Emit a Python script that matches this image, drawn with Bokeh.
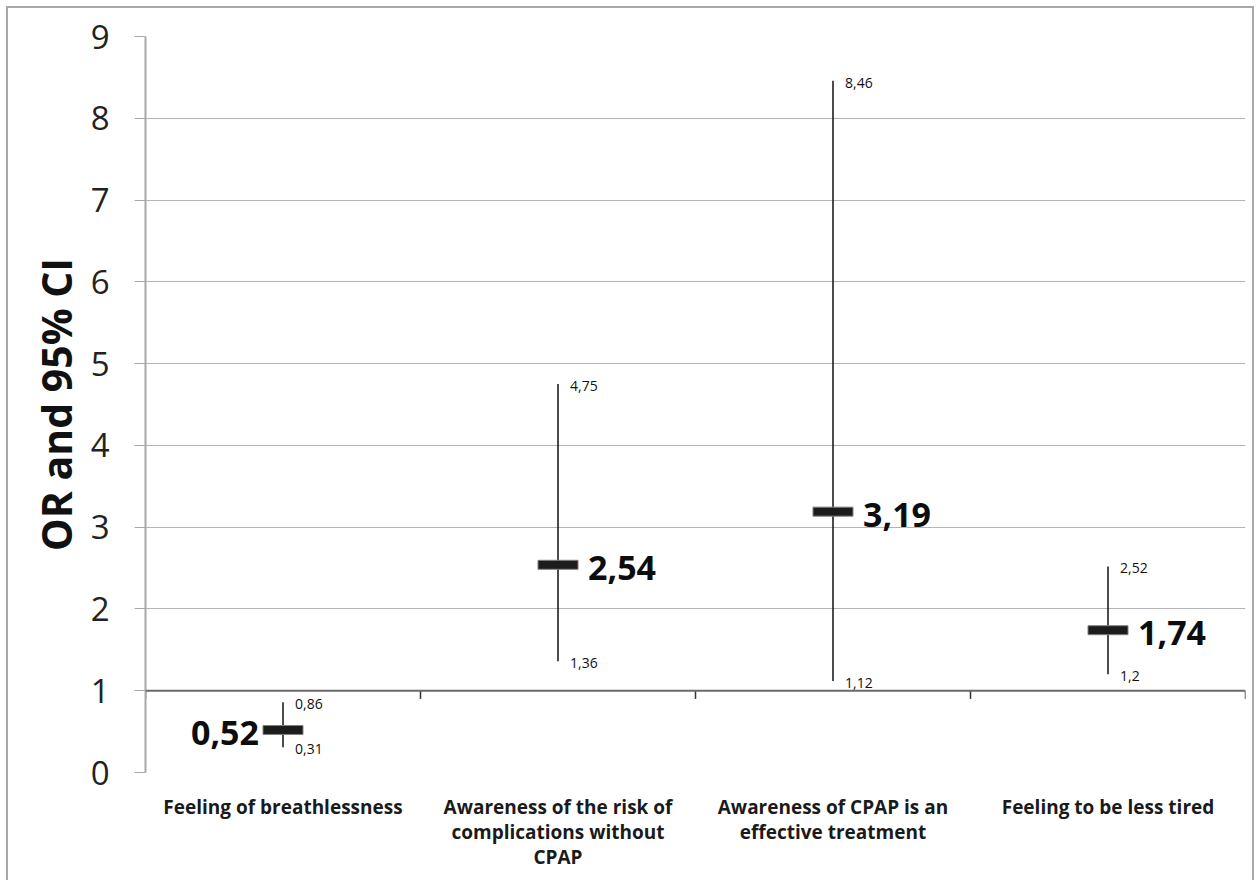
from bokeh.plotting import figure
from bokeh.models import Range1d, FixedTicker, Span, ColumnDataSource
from bokeh.core.properties import value
from bokeh.embed import file_html
from bokeh.resources import INLINE

categories = ["Feeling of breathlessness",
              "Awareness of the risk of\ncomplications without\nCPAP",
              "Awareness of CPAP is an\neffective treatment",
              "Feeling to be less tired"]
odds_ratio = [0.52, 2.54, 3.19, 1.74]
ci_lower = [0.31, 1.36, 1.12, 1.2]
ci_upper = [0.86, 4.75, 8.46, 2.52]
y_ticks = [0, 1, 2, 3, 4, 5, 6, 7, 8, 9]


def fmt(v):
    return f"{v:g}".replace(".", ",")


xs = [i + 1 for i in range(len(categories))]
FONT = "Open Sans"

p = figure(width=1248, height=874, output_backend="svg", toolbar_location=None,
           x_range=Range1d(0.5, 4.5), y_range=Range1d(0, 9),
           min_border_left=137, min_border_right=11, min_border_top=28,
           min_border_bottom=110)
p.margin = (6, 0, 0, 6)
p.styles = {"border-left": "2px solid #a8a8a8", "border-top": "2px solid #a8a8a8",
            "border-right": "2px solid #a8a8a8"}
p.outline_line_color = None
p.background_fill_color = "white"
p.border_fill_color = "white"

# axes
p.xaxis.ticker = FixedTicker(ticks=xs)
p.xaxis.major_label_overrides = {x: c for x, c in zip(xs, categories)}
p.xaxis.axis_line_color = None
p.xaxis.major_tick_line_color = None
p.xaxis.minor_tick_line_color = None
p.xaxis.major_label_text_font = FONT
p.xaxis.major_label_text_font_style = "bold"
p.xaxis.major_label_text_font_size = "19px"
p.xaxis.major_label_text_color = "#1a1a1a"
p.xaxis.major_label_standoff = 15
p.xaxis.major_label_text_line_height = 0.98
p.xgrid.grid_line_color = None

p.yaxis.ticker = FixedTicker(ticks=y_ticks)
p.yaxis.axis_label = "OR and 95% CI"
p.yaxis.axis_label_text_font = FONT
p.yaxis.axis_label_text_font_style = "bold"
p.yaxis.axis_label_text_font_size = "41px"
p.yaxis.axis_label_text_color = "#111"
p.yaxis.axis_label_standoff = 4
p.yaxis.major_label_text_font = FONT
p.yaxis.major_label_text_font_size = "33px"
p.yaxis.major_label_text_color = "#222"
p.yaxis.major_label_standoff = 25
p.yaxis.axis_line_color = "#a8a8a8"
p.yaxis.axis_line_width = 2
p.yaxis.major_tick_line_color = "#a8a8a8"
p.yaxis.major_tick_in = 0
p.yaxis.major_tick_out = 11
p.yaxis.minor_tick_line_color = None
p.ygrid.grid_line_color = "#b4b4b4"
p.ygrid.grid_line_width = 1

# horizontal axis crossing at 1
p.add_layout(Span(location=1, dimension="width", line_color="#6a6a6a", line_width=2))
bounds = [0.5 + i for i in range(len(categories) + 1)]
p.segment(x0=bounds, y0=[1] * len(bounds), x1=bounds, y1=[0.9] * len(bounds),
          line_color="#333", line_width=1.5)

src = ColumnDataSource(dict(x=xs, orv=odds_ratio, lo=ci_lower, hi=ci_upper,
                            orl=[fmt(v) for v in odds_ratio],
                            lol=[fmt(v) for v in ci_lower],
                            hil=[fmt(v) for v in ci_upper]))

p.segment(x0="x", y0="lo", x1="x", y1="hi", source=src, line_color="#111", line_width=1.5)
p.rect(x="x", y="orv", width=40, height=9, width_units="screen", height_units="screen",
       source=src, fill_color="#1c1c1c", line_color="#808080", line_width=1)

p.text(x="x", y="hi", text="hil", source=src, x_offset=12, y_offset=2,
       text_font=value(FONT), text_font_size="14px", text_baseline="middle",
       text_align="left", text_color="#111")
p.text(x="x", y="lo", text="lol", source=src, x_offset=12, y_offset=2,
       text_font=value(FONT), text_font_size="14px", text_baseline="middle",
       text_align="left", text_color="#111")

src_first = ColumnDataSource(dict(x=xs[:1], orv=odds_ratio[:1],
                                  orl=[fmt(v) for v in odds_ratio[:1]]))
src_rest = ColumnDataSource(dict(x=xs[1:], orv=odds_ratio[1:],
                                 orl=[fmt(v) for v in odds_ratio[1:]]))
p.text(x="x", y="orv", text="orl", source=src_rest, x_offset=30, y_offset=3,
       text_font=value(FONT), text_font_size="34px", text_font_style="bold",
       text_baseline="middle", text_align="left", text_color="#0d0d0d")
p.text(x="x", y="orv", text="orl", source=src_first, x_offset=-24, y_offset=3,
       text_font=value(FONT), text_font_size="34px", text_font_style="bold",
       text_baseline="middle", text_align="right", text_color="#0d0d0d")

open("out.html", "w").write(file_html(p, INLINE))
